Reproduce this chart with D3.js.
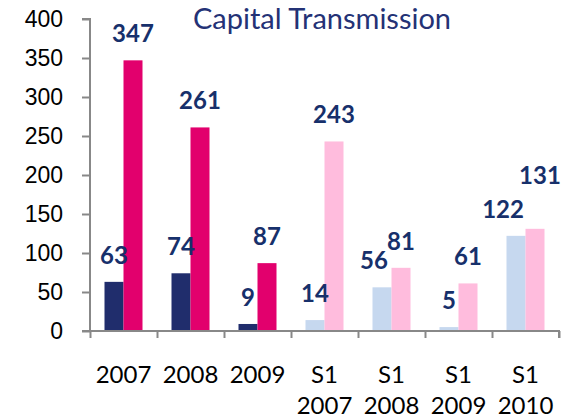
<!DOCTYPE html>
<html>
<head>
<meta charset="utf-8">
<script src="https://cdn.jsdelivr.net/npm/d3@7"></script>
<style>
  body { margin: 0; background: #fff; }
  svg { display: block; font-family: Lato, "Open Sans", sans-serif; }
</style>
</head>
<body>
<svg width="572" height="419"></svg>
<script>
// categories and values
var categories = ["2007", "2008", "2009", "S1 2007", "S1 2008", "S1 2009", "S1 2010"];
var seriesA = [63, 74, 9, 14, 56, 5, 122];
var seriesB = [347, 261, 87, 243, 81, 61, 131];
var yTicks = [0, 50, 100, 150, 200, 250, 300, 350, 400];

// full years dark, half years pale
var colorsA = ["#202d6c", "#202d6c", "#202d6c", "#c6d8ef", "#c6d8ef", "#c6d8ef", "#c6d8ef"];
var colorsB = ["#e2006d", "#e2006d", "#e2006d", "#ffbcdd", "#ffbcdd", "#ffbcdd", "#ffbcdd"];

// hand moved labels (like in the original slide)
var labelNudge = { "A4": [-8, 0], "A6": [-13, 0], "B6": [5, -27] };

var svg = d3.select("svg");

var x0 = d3.scaleBand().domain(categories).range([90, 559]);
var x1 = d3.scaleBand().domain(["A", "B"]).range([14.5, 52.5]);
var y = d3.scaleLinear().domain([0, 400]).range([331, 19]);

//Title
svg.append("text")
  .attr("x", 322).attr("y", 29)
  .attr("text-anchor", "middle")
  .style("font-size", "29px")
  .style("fill", "#243276")
  .text("Capital Transmission");

//Bars
var groups = svg.selectAll(".grp")
  .data(categories)
  .enter().append("g")
  .attr("class", "grp")
  .attr("transform", function(d) { return "translate(" + x0(d) + ",0)"; });

groups.append("rect")
  .attr("x", x1("A")).attr("width", x1.bandwidth())
  .attr("y", function(d, i) { return y(seriesA[i]); })
  .attr("height", function(d, i) { return y(0) - y(seriesA[i]); })
  .style("fill", function(d, i) { return colorsA[i]; });

groups.append("rect")
  .attr("x", x1("B")).attr("width", x1.bandwidth())
  .attr("y", function(d, i) { return y(seriesB[i]); })
  .attr("height", function(d, i) { return y(0) - y(seriesB[i]); })
  .style("fill", function(d, i) { return colorsB[i]; });

//Value labels
function addLabels(key, vals) {
  groups.append("text")
    .attr("text-anchor", "middle")
    .attr("x", function(d, i) {
      var n = labelNudge[key + i];
      return x1(key) + x1.bandwidth() / 2 + (n ? n[0] : 0);
    })
    .attr("y", function(d, i) {
      var n = labelNudge[key + i];
      return y(vals[i]) - 18 + (n ? n[1] : 0);
    })
    .style("font-size", "24px")
    .style("font-weight", "bold")
    .style("fill", "#17306b")
    .text(function(d, i) { return vals[i]; });
}
addLabels("A", seriesA);
addLabels("B", seriesB);

//Y axis
var yAxis = svg.append("g")
  .attr("transform", "translate(90,0)")
  .call(d3.axisLeft(y).tickValues(yTicks).tickSize(8).tickPadding(19));
yAxis.selectAll("text").style("font-size", "23px").style("fill", "#000")
  .attr("font-family", null);
yAxis.selectAll("line").attr("stroke", "#888").attr("stroke-width", 2);
yAxis.select(".domain").attr("stroke", "#888").attr("stroke-width", 2)
  .attr("d", "M-8,19H0V331H-8");

//X axis with ticks between categories
var xb = d3.scaleLinear().domain([0, categories.length]).range([90, 559]);
var xAxis = svg.append("g")
  .attr("transform", "translate(0,331)")
  .call(d3.axisBottom(xb).ticks(categories.length).tickSize(7).tickFormat(""));
xAxis.selectAll("line").attr("stroke", "#888").attr("stroke-width", 2);
xAxis.select(".domain").attr("stroke", "#888").attr("stroke-width", 2)
  .attr("d", "M90,0H559V7");

//Category labels, two rows
svg.selectAll(".cat")
  .data(categories)
  .enter().append("text")
  .attr("class", "cat")
  .attr("text-anchor", "middle")
  .attr("x", function(d) { return x0(d) + x0.bandwidth() / 2; })
  .attr("y", 383)
  .style("font-size", "24px")
  .style("fill", "#000")
  .each(function(d) {
    var parts = d.split(" ");
    var t = d3.select(this);
    parts.forEach(function(p, k) {
      t.append("tspan")
        .attr("x", x0(d) + x0.bandwidth() / 2)
        .attr("dy", k === 0 ? 0 : 31)
        .text(p);
    });
  });
</script>
</body>
</html>
